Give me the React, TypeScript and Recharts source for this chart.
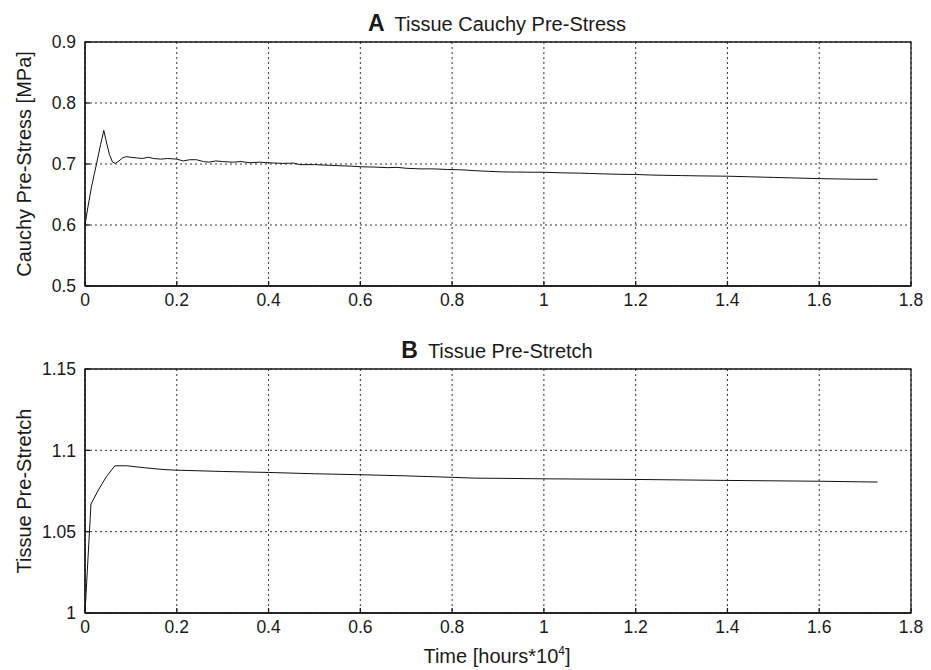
import React from 'react';
import { CartesianGrid, Label, Line, LineChart, ReferenceArea, XAxis, YAxis } from 'recharts';

const FONT = '"Liberation Sans", Arial, Helvetica, sans-serif';

const TIME_TICKS = [0, 0.2, 0.4, 0.6, 0.8, 1, 1.2, 1.4, 1.6, 1.8];
const STRESS_TICKS = [0.5, 0.6, 0.7, 0.8, 0.9];
const STRETCH_TICKS = [1, 1.05, 1.1, 1.15];

// panel A: cauchy pre-stress [MPa] vs time [hours*10^4]
const STRESS_TIME = [
  0, 0.006, 0.014, 0.025, 0.034, 0.041, 0.046, 0.053, 0.06, 0.066, 0.074, 0.082, 0.09, 0.1,
  0.112, 0.125, 0.138, 0.15, 0.165, 0.18, 0.2, 0.214, 0.228, 0.243, 0.258, 0.27, 0.285, 0.3,
  0.323, 0.34, 0.36, 0.38, 0.4, 0.43, 0.455, 0.468, 0.5, 0.53, 0.56, 0.58, 0.6, 0.63, 0.66,
  0.68, 0.7, 0.73, 0.76, 0.79, 0.82, 0.85, 0.88, 0.91, 0.94, 0.98, 1, 1.04, 1.08, 1.1, 1.13,
  1.16, 1.2, 1.23, 1.26, 1.3, 1.34, 1.4, 1.45, 1.5, 1.54, 1.6, 1.64, 1.68, 1.727,
];
const STRESS_VALUES = [
  0.6, 0.628, 0.662, 0.7, 0.732, 0.755, 0.738, 0.716, 0.703, 0.701, 0.705, 0.71, 0.712, 0.711,
  0.71, 0.709, 0.711, 0.709, 0.708, 0.709, 0.708, 0.705, 0.707, 0.707, 0.704, 0.703, 0.705, 0.704,
  0.703, 0.704, 0.702, 0.703, 0.702, 0.701, 0.7015, 0.699, 0.699, 0.698, 0.697, 0.6965, 0.6955,
  0.695, 0.694, 0.6945, 0.693, 0.692, 0.692, 0.691, 0.6905, 0.689, 0.688, 0.687, 0.6868, 0.6865,
  0.6865, 0.6855, 0.685, 0.6845, 0.6838, 0.6832, 0.6828, 0.682, 0.6815, 0.681, 0.6805, 0.68,
  0.679, 0.678, 0.6772, 0.676, 0.6755, 0.675, 0.6748,
];

// panel B: tissue pre-stretch vs time
const STRETCH_TIME = [
  0, 0.013, 0.03, 0.047, 0.065, 0.091, 0.13, 0.17, 0.2, 0.3, 0.4, 0.5, 0.6, 0.7, 0.8, 0.85, 0.9,
  1, 1.2, 1.4, 1.6, 1.727,
];
const STRETCH_VALUES = [
  1, 1.067, 1.076, 1.084, 1.0905, 1.0905, 1.0893, 1.0882, 1.0878, 1.087, 1.0864, 1.0856, 1.085,
  1.0843, 1.0834, 1.0829, 1.0828, 1.0825, 1.0821, 1.0815, 1.081, 1.0805,
];

const stressData = STRESS_TIME.map((t, i) => ({ t, v: STRESS_VALUES[i] }));
const stretchData = STRETCH_TIME.map((t, i) => ({ t, v: STRETCH_VALUES[i] }));

const INK = '#1a1a1a';
const TICK_STYLE = { fontSize: 17.5, fontFamily: FONT, fill: INK };

interface PanelProps {
  data: { t: number; v: number }[];
  height: number;
  top: number;
  xAxisHeight: number;
  yDomain: [number, number];
  yTicks: number[];
  yLabel: string;
  letter: string;
  title: string;
  showXLabel?: boolean;
}

function Panel({
  data,
  height,
  top,
  xAxisHeight,
  yDomain,
  yTicks,
  yLabel,
  letter,
  title,
  showXLabel,
}: PanelProps) {
  const plotH = height - top - xAxisHeight;
  return (
    <div style={{ position: 'relative', width: 931, height }}>
      <div
        style={{
          position: 'absolute',
          left: 0,
          width: 994,
          top: top - 31,
          textAlign: 'center',
          fontFamily: FONT,
          fontSize: 20,
          lineHeight: '24px',
          color: INK,
          whiteSpace: 'nowrap',
        }}
      >
        <span style={{ fontWeight: 'bold', fontSize: 23, marginRight: 10 }}>{letter}</span>
        <span>{title}</span>
      </div>
      <LineChart
        width={931}
        height={height}
        data={data}
        margin={{ top, right: 20, bottom: 0, left: 0 }}
        style={{ fontFamily: FONT, position: 'absolute', left: 0, top: 0 }}
      >
        <CartesianGrid stroke="#333" strokeDasharray="2 3" strokeWidth={1} />
        <XAxis
          dataKey="t"
          type="number"
          domain={[0, 1.8]}
          ticks={TIME_TICKS}
          height={xAxisHeight}
          stroke={INK}
          strokeWidth={1.3}
          tickSize={-5}
          tickMargin={13}
          tick={TICK_STYLE}
          interval={0}
        >
          {showXLabel && (
            <Label
              content={() => (
                <text
                  x={497}
                  y={height - 7}
                  textAnchor="middle"
                  fontSize={20}
                  fontFamily={FONT}
                  fill={INK}
                >
                  <tspan>Time [hours*10</tspan>
                  <tspan dy={-8} fontSize={12}>
                    4
                  </tspan>
                  <tspan dy={8}>]</tspan>
                </text>
              )}
            />
          )}
        </XAxis>
        <XAxis
          xAxisId="top"
          dataKey="t"
          orientation="top"
          type="number"
          domain={[0, 1.8]}
          ticks={TIME_TICKS}
          height={0}
          stroke={INK}
          strokeWidth={1.3}
          tickSize={-5}
          tick={false}
          interval={0}
        />
        <YAxis
          type="number"
          domain={yDomain}
          ticks={yTicks}
          width={85}
          stroke={INK}
          strokeWidth={1.3}
          tickSize={-5}
          tickMargin={14}
          tick={TICK_STYLE}
          interval={0}
        >
          <Label
            content={() => (
              <text
                x={24}
                y={top + plotH / 2}
                transform={`rotate(-90, 24, ${top + plotH / 2})`}
                textAnchor="middle"
                dominantBaseline="central"
                fontSize={20}
                fontFamily={FONT}
                fill={INK}
              >
                {yLabel}
              </text>
            )}
          />
        </YAxis>
        <YAxis
          yAxisId="right"
          orientation="right"
          type="number"
          domain={yDomain}
          ticks={yTicks}
          width={0}
          stroke={INK}
          strokeWidth={1.3}
          tickSize={-5}
          tick={false}
          interval={0}
        />
        <ReferenceArea
          x1={0}
          x2={1.8}
          y1={yDomain[0]}
          y2={yDomain[1]}
          fill="none"
          fillOpacity={0}
          stroke={INK}
          strokeWidth={1.3}
          ifOverflow="visible"
        />
        <Line
          dataKey="v"
          type="linear"
          stroke="#111"
          strokeWidth={1}
          dot={false}
          isAnimationActive={false}
        />
        {/* invisible copy so the top / right frame axes get a domain */}
        <Line
          xAxisId="top"
          yAxisId="right"
          dataKey="v"
          stroke="none"
          dot={false}
          activeDot={false}
          legendType="none"
          isAnimationActive={false}
        />
      </LineChart>
    </div>
  );
}

export default function App() {
  return (
    <div
      style={{
        position: 'absolute',
        left: 0,
        top: 0,
        width: 931,
        height: 670,
        background: '#fff',
      }}
    >
      <Panel
        data={stressData}
        height={330}
        top={42}
        xAxisHeight={44}
        yDomain={[0.5, 0.9]}
        yTicks={STRESS_TICKS}
        yLabel="Cauchy Pre-Stress [MPa]"
        letter="A"
        title="Tissue Cauchy Pre-Stress"
      />
      <Panel
        data={stretchData}
        height={340}
        top={39}
        xAxisHeight={57}
        yDomain={[1, 1.15]}
        yTicks={STRETCH_TICKS}
        yLabel="Tissue Pre-Stretch"
        letter="B"
        title="Tissue Pre-Stretch"
        showXLabel
      />
    </div>
  );
}
